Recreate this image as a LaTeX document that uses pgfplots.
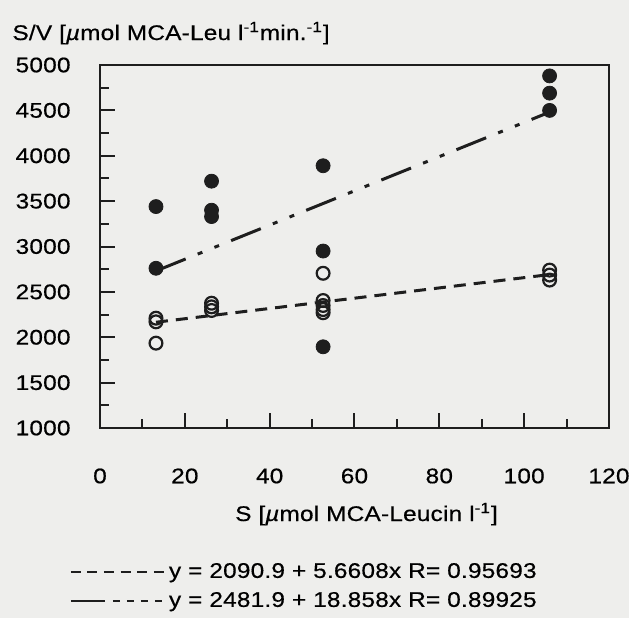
\documentclass[border=0pt]{standalone}
\usepackage{fontspec}
\setmainfont{Liberation Sans}[FakeStretch=1.15,LetterSpace=1,FakeBold=0.5]
\usepackage{pgfplots}
\pgfplotsset{compat=1.18}
\definecolor{ink}{HTML}{1E1E1E}
\definecolor{paper}{HTML}{EEEEEC}

\begin{document}
\fontsize{10.6}{12.4}\selectfont
\begin{tikzpicture}
\useasboundingbox (-50pt,-95pt) rectangle (264.5pt,214pt);
\fill[paper] (-50pt,-95pt) rectangle (264.5pt,214pt);
\begin{axis}[
  width=254.5pt,height=181.5pt,scale only axis,
  xmin=0,xmax=120,ymin=1000,ymax=5000,
  xtick={0,20,...,120},minor xtick={10,30,...,110},
  ytick={1000,1500,...,5000},minor ytick={1250,1750,...,4750},
  xtick pos=bottom,ytick pos=left,
  tick align=inside,major tick length=7.5pt,minor tick length=4.5pt,
  axis line style={ink,line width=1.3pt},
  every tick/.style={ink,line width=1pt},
  /pgf/number format/assume math mode=true,
  /pgf/number format/1000 sep={},
  xticklabel style={yshift=-16.5pt},
  yticklabel style={xshift=-11pt},
  every axis y label/.style={at={(rel axis cs:0,1)},anchor=base west,xshift=-47.5pt,yshift=12.5pt},
  every axis x label/.style={at={(rel axis cs:0.5,0)},anchor=base,xshift=6pt,yshift=-46.5pt},
  ylabel={S/V [\textit{µ}mol MCA-Leu l\textsuperscript{-1}min.\textsuperscript{-1}]},
  xlabel={S [\textit{µ}mol MCA-Leucin l\textsuperscript{-1}]},
  legend style={draw=none,fill=none,at={(0.403,-0.36)},anchor=north,
    row sep=1.5pt,inner sep=0pt,cells={anchor=west}},
  legend cell align=left,
]
% regression lines
\addplot[ink,line width=1.5pt,dash pattern=on 6pt off 4pt,
  legend image code/.code={\draw[ink,line width=1.2pt,dash pattern=on 5pt off 3.3pt] (0pt,0pt) -- (46.5pt,0pt);}]
  coordinates {(13.2,2165.6) (106,2690.9)};
\addlegendentry{y = 2090.9 + 5.6608x R= 0.95693}
\addplot[ink,line width=1.5pt,dash pattern=on 16pt off 6.5pt on 2.5pt off 6.5pt on 2.5pt off 6.5pt,
  legend image code/.code={\draw[ink,line width=1.2pt,dash pattern=on 17pt off 4pt on 3.5pt off 3.5pt on 3.5pt off 3.5pt on 3.5pt off 3.5pt on 3.5pt off 10pt] (0pt,0pt) -- (46.5pt,0pt);}]
  coordinates {(13.2,2730.8) (106,4480.8)};
\addlegendentry{y = 2481.9 + 18.858x R= 0.89925}
% open circles
\addplot[only marks,mark=o,mark size=3.2pt,mark options={ink,line width=1.1pt},forget plot]
  coordinates {
  (13.2,2210) (13.2,2170) (13.2,1935)
  (26.3,2375) (26.3,2335) (26.3,2295)
  (52.6,2705) (52.6,2405) (52.6,2350) (52.6,2305) (52.6,2270)
  (106,2740) (106,2685) (106,2630)};
% filled circles
\addplot[only marks,mark=*,mark size=3.5pt,mark options={draw=ink,fill=ink},forget plot]
  coordinates {
  (13.2,3440) (13.2,2760)
  (26.3,3720) (26.3,3400) (26.3,3330)
  (52.6,3890) (52.6,2950) (52.6,1895)
  (106,4880) (106,4690) (106,4500)};
\end{axis}
\end{tikzpicture}
\end{document}
